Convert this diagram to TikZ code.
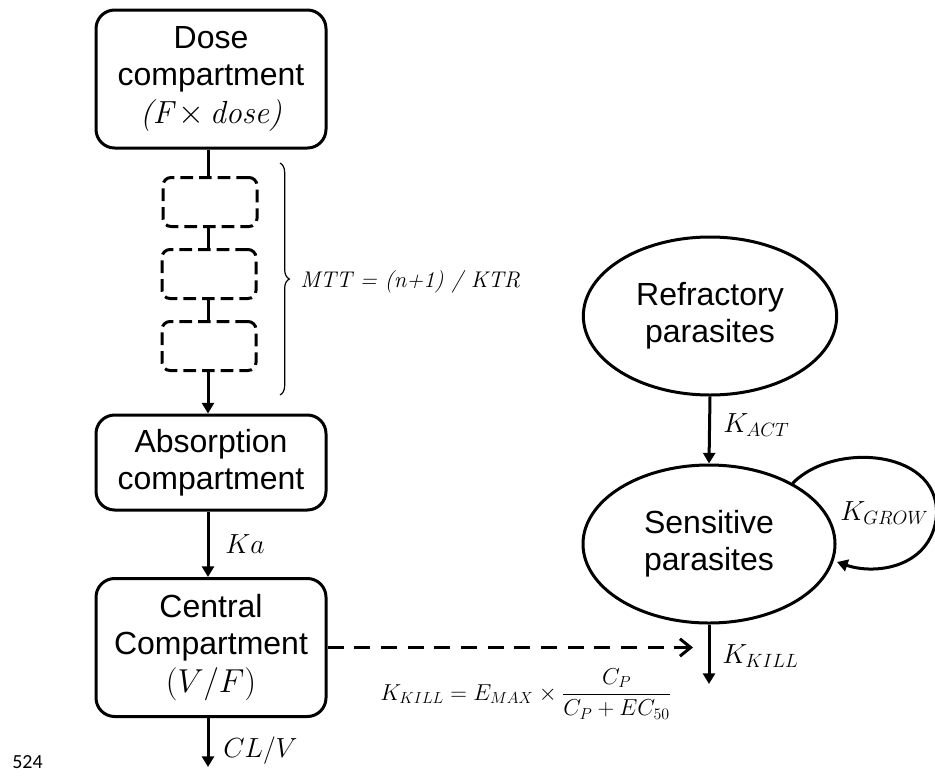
\documentclass[tikz,border=0pt]{standalone}
\usepackage{amsmath}
\usepackage{fontspec}
\setsansfont{Liberation Sans}
\newfontfamily\numfont{Carlito}
\usetikzlibrary{arrows.meta,shapes.geometric,decorations.pathreplacing}
\tikzset{
  compbox/.style={draw, line width=2.25pt, rounded corners=14pt, align=center,
    font=\sffamily\fontsize{24}{28}\selectfont, inner sep=0pt, minimum width=172.5pt},
  transbox/.style={draw, line width=2.25pt, rounded corners=6pt, dash pattern=on 9.5pt off 4.5pt,
    minimum width=70.5pt, minimum height=36.75pt, inner sep=0pt},
  popell/.style={draw, ellipse, line width=2.25pt, align=center, inner sep=0pt,
    font=\sffamily\fontsize{24}{28}\selectfont},
  flow/.style={line width=2.25pt, -{Triangle[length=8pt,width=9pt]}},
  link/.style={line width=2.25pt},
  ratelbl/.style={font=\fontsize{21}{25}\selectfont, inner sep=0pt},
}
\begin{document}
\begin{tikzpicture}[x=0.75pt,y=-0.75pt]
\useasboundingbox (0,0) rectangle (935,775);
% PK side
\node[compbox, minimum height=103.5pt] (dose) at (211,79) {Dose\\compartment\\{\rmfamily\itshape (F\,$\times$\,dose)}};
\node[transbox] (t1) at (210,202) {};
\node[transbox] (t2) at (209,274) {};
\node[transbox] (t3) at (209,346) {};
\node[compbox, minimum height=71.25pt] (absn) at (211,462.5) {Absorption\\compartment};
\node[compbox, minimum height=103.5pt] (cent) at (211,647.5) {Central\\Compartment\\$(V/F)$};
\coordinate (clEnd) at (208,767);
\draw[link] (dose.south -| 208,0) -- (t1.north -| 208,0);
\draw[link] (t1.south -| 208,0) -- (t2.north -| 208,0);
\draw[link] (t2.south -| 208,0) -- (t3.north -| 208,0);
\draw[flow] (t3.south -| 208,0) -- (absn.north -| 208,0);
\draw[flow] (absn.south -| 208,0) -- (cent.north -| 208,0);
\draw[flow] (cent.south -| 208,0) -- (clEnd);
\node[ratelbl, anchor=base west] (ka) at (225,553) {$Ka$};
\node[ratelbl, anchor=base west] (clv) at (223,757) {$CL/V$};
% brace
\coordinate (brTop) at (280,163);
\coordinate (brBot) at (280,395);
\draw[line width=0.9pt, decorate, decoration={brace, amplitude=7pt}] (brTop) -- (brBot);
\node[anchor=base west, inner sep=0pt, font=\fontsize{17}{20}\selectfont] (mtt) at (300,287) {\textit{MTT = (n+1) / KTR}};
% PD side
\node[popell, minimum width=190pt, minimum height=118.5pt] (refr) at (710,316) {Refractory\\parasites};
\node[popell, minimum width=189pt, minimum height=118.5pt] (sens) at (709,544) {Sensitive\\parasites};
\coordinate (killEnd) at (709,684);
\draw[flow] (refr.south) -- (sens.north);
\draw[flow] (sens.south) -- (killEnd);
\node[ratelbl, anchor=base west] (kact) at (723,432) {$K_{ACT}$};
\node[ratelbl, anchor=base west] (kkill) at (722,663) {$K_{KILL}$};
\node[anchor=base west, inner sep=0pt, font=\fontsize{20}{24}\selectfont] (kgrow) at (840,520) {$K_{GROW}$};
\draw[line width=2.25pt, -{Triangle[length=8pt,width=9pt]}]
  (sens.36) .. controls (835,440) and (945,450) .. (936,520)
  .. controls (928,568) and (875,575) .. (837,562);
% drug effect
\coordinate (dashEnd) at (693,647.5);
\draw[line width=2.5pt, dash pattern=on 12pt off 8pt, -{Straight Barb[length=8pt,width=13pt,line width=2.25pt]}]
  (cent.east) -- (dashEnd);
\node[anchor=base west, inner sep=0pt, font=\fontsize{18}{22}\selectfont] (formula) at (380,700)
  {$K_{KILL} = E_{MAX}\times\dfrac{C_P}{C_P+EC_{50}}$};
\node[anchor=base west, inner sep=0pt, font=\numfont\fontsize{15}{18}\selectfont] (lineno) at (12,768) {524};
\end{tikzpicture}
\end{document}
